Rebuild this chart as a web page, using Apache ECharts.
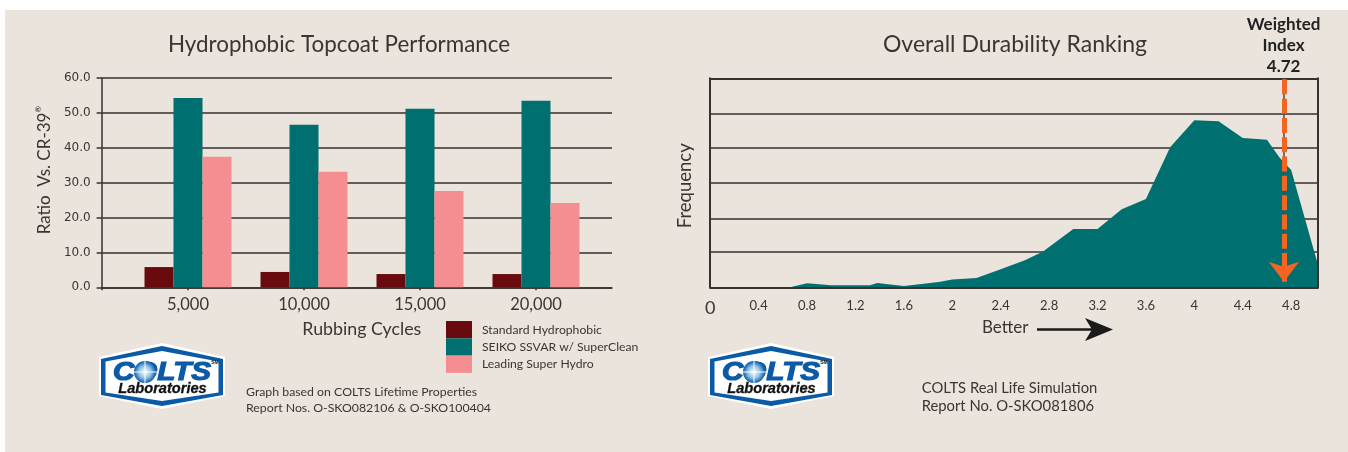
<!DOCTYPE html>
<html><head><meta charset="utf-8">
<style>html,body{margin:0;padding:0;background:#fff}#c{width:1348px;height:452px}</style>
<script src="https://cdn.jsdelivr.net/npm/echarts@6/dist/echarts.min.js"></script>
</head><body><div id="c"></div>
<script>
const cycles = [5000, 10000, 15000, 20000];
const standardHydrophobic = [5.8, 4.4, 3.8, 3.8];
const seikoSuperClean = [54.3, 46.6, 51.2, 53.5];
const leadingSuperHydro = [37.4, 33.1, 27.6, 24.2];
const ratioTicks = [0, 10, 20, 30, 40, 50, 60];

const rankX = [0, 0.66, 0.8, 1.0, 1.2, 1.32, 1.38, 1.6, 1.8, 1.9, 2.0, 2.2, 2.4, 2.6, 2.75, 3.0, 3.2, 3.4, 3.6, 3.8, 4.0, 4.2, 4.4, 4.6, 4.7, 4.8, 5.02];
const rankFreq = [0, 0, 1.9, 1.0, 1.0, 1.0, 2.1, 0.6, 1.9, 2.6, 3.7, 4.5, 8.6, 13.0, 17.1, 27.9, 27.9, 37.3, 42.3, 67.0, 79.9, 79.4, 71.4, 70.6, 62.4, 56.1, 11.0];
const rankTicks = [0, 0.4, 0.8, 1.2, 1.6, 2, 2.4, 2.8, 3.2, 3.6, 4, 4.4, 4.8];
const freqLines = [0, 17.1, 32.9, 50.2, 66.7, 82.9, 100];
const weightedMark = 4.74;

const FONT = 'Lato';
const INK = '#3a3533', LINE = '#353131';
const DARK = '#690B0E', TEAL = '#006F70', PINK = '#F58E90', ORANGE = '#F26522';
const BLUE = '#0B5AA6';

function txt(x, y, text, size, o) {
  return Object.assign({type:'text', x, y, z:20, style:Object.assign({
    text, fontFamily:FONT, fontSize:size, fill:INK, textAlign:'left', textVerticalAlign:'middle'
  }, o||{})});
}
function logo(dx) {
  const X = v => v + dx;
  const hex = (l, t, cy1, cy2) => [[X(99+l),cy1],[X(162),343+t],[X(225-l),cy1],[X(225-l),cy2],[X(162),409-t],[X(99+l),cy2]];
  return [
    {type:'polygon', z:20, shape:{points:hex(0,0,357,396)}, style:{fill:'#fff'}},
    {type:'polygon', z:20, shape:{points:hex(2,3,359,395)}, style:{fill:BLUE}},
    {type:'polygon', z:20, shape:{points:hex(6.5,8,361.5,392.5)}, style:{fill:'#fff'}},
    {type:'text', z:21, x:X(162), y:372.5, scaleX:1.14, style:{text:'COLTS', fontFamily:'Liberation Sans', fontStyle:'italic', fontWeight:'bold', fontSize:26, fill:BLUE, stroke:BLUE, lineWidth:1.2, textAlign:'center', textVerticalAlign:'middle'}},
    {type:'circle', z:22, shape:{cx:X(145), cy:372, r:11}, style:{fill:new echarts.graphic.RadialGradient(0.5,0.5,0.5,[{offset:0,color:'#fff'},{offset:0.55,color:'#8fc3ea'},{offset:1,color:BLUE}])}},
    {type:'line', z:23, shape:{x1:X(145),y1:359,x2:X(145),y2:385}, style:{stroke:'#fff',lineWidth:1}},
    {type:'line', z:23, shape:{x1:X(132),y1:372,x2:X(158),y2:372}, style:{stroke:'#fff',lineWidth:1}},
    {type:'text', z:21, x:X(215), y:363, style:{text:'SM', fontFamily:'Liberation Sans', fontWeight:'bold', fontSize:5, fill:'#222', textAlign:'center', textVerticalAlign:'middle'}},
    {type:'text', z:21, x:X(162.5), y:389, style:{text:'Laboratories', fontFamily:'Liberation Sans', fontStyle:'italic', fontWeight:'bold', fontSize:14.6, fill:'#111', stroke:'#111', lineWidth:0.3, textAlign:'center', textVerticalAlign:'middle'}}
  ];
}

const chart = echarts.init(document.getElementById('c'), null, {renderer:'canvas'});
const bar = (name, values, color) => ({
  name, type:'bar', xAxisIndex:0, yAxisIndex:0, barWidth:29, barGap:0,
  itemStyle:{color}, data:cycles.map((c,i)=>[c, values[i]])
});
const leftMin = 1276, leftMax = 23276;

chart.setOption({
  animation:false,
  backgroundColor:'transparent',
  title:[
    {text:'Hydrophobic Topcoat Performance', left:334, top:40, textAlign:'center', textVerticalAlign:'middle', textStyle:{fontFamily:FONT, fontSize:22.4, fontWeight:'normal', color:INK}},
    {text:'Overall Durability Ranking', left:1010, top:40, textAlign:'center', textVerticalAlign:'middle', textStyle:{fontFamily:FONT, fontSize:23, fontWeight:'normal', color:INK}}
  ],
  legend:{
    left:446, top:321, padding:0, orient:'vertical', itemWidth:26, itemHeight:17.3, itemGap:0, icon:'rect', selectedMode:false,
    data:['Standard Hydrophobic','SEIKO SSVAR w/ SuperClean','Leading Super Hydro'],
    textStyle:{fontFamily:FONT, fontSize:12.2, color:INK, padding:[0,0,0,5]}
  },
  grid:[
    {left:101.6, top:78, width:510.4, height:209.3},
    {left:710.2, top:78.3, width:607.6, height:209}
  ],
  xAxis:[
    {gridIndex:0, type:'value', min:leftMin, max:leftMax, splitLine:{show:false},
     name:'Rubbing Cycles', nameLocation:'middle', nameGap:33,
     nameTextStyle:{fontFamily:FONT, fontSize:17.8, color:INK, padding:[0,0,0,10]},
     axisLine:{show:true, onZero:false, lineStyle:{color:LINE, width:1.5}},
     axisTick:{show:true, length:3, customValues:[leftMin].concat(cycles), lineStyle:{color:LINE, width:1.5}},
     axisLabel:{customValues:cycles, margin:9, fontFamily:FONT, fontSize:16.5, color:INK, formatter:v=>Number(v).toLocaleString('en-US')}},
    {gridIndex:1, type:'value', min:0, max:5.02, z:6, splitLine:{show:false},
     axisLine:{show:true, onZero:false, lineStyle:{color:LINE, width:2}},
     axisTick:{show:false},
     axisLabel:{customValues:rankTicks, margin:12, fontFamily:FONT, fontSize:13, color:INK,
       formatter:v=>Number(v)===0?'{z|0}':String(v), rich:{z:{fontFamily:FONT, fontSize:18, color:INK}}}},
    {gridIndex:1, type:'value', min:0, max:5.02, position:'top', z:6, splitLine:{show:false},
     axisLine:{show:true, onZero:false, lineStyle:{color:LINE, width:2}}, axisTick:{show:false}, axisLabel:{show:false}}
  ],
  yAxis:[
    {gridIndex:0, type:'value', min:0, max:60, interval:10,
     name:'Ratio  Vs. CR-39{s|®}', nameLocation:'middle', nameGap:47,
     nameTextStyle:{fontFamily:FONT, fontSize:17, color:INK, padding:[0,0,0,25], rich:{s:{fontFamily:FONT, fontSize:8, color:INK, verticalAlign:'top', lineHeight:20}}},
     axisLine:{show:true, onZero:false, lineStyle:{color:LINE, width:1.5}},
     axisTick:{show:true, length:5, lineStyle:{color:LINE, width:1.5}},
     splitLine:{show:true, lineStyle:{color:LINE, width:1.5}},
     axisLabel:{customValues:ratioTicks, margin:11, fontFamily:'DejaVu Sans', fontSize:12, color:INK, formatter:v=>Number(v).toFixed(1)}},
    {gridIndex:1, type:'value', min:0, max:100,
     name:'Frequency', nameLocation:'middle', nameGap:16,
     nameTextStyle:{fontFamily:FONT, fontSize:18.5, color:INK, padding:[0,6,0,0]},
     axisLine:{show:true, onZero:false, lineStyle:{color:LINE, width:2}},
     axisTick:{show:false, customValues:freqLines},
     splitLine:{show:true, lineStyle:{color:LINE, width:1.5}},
     axisLabel:{show:false}},
    {gridIndex:1, type:'value', min:0, max:100, position:'right', z:6, splitLine:{show:false},
     axisLine:{show:true, onZero:false, lineStyle:{color:LINE, width:2}}, axisTick:{show:false}, axisLabel:{show:false}}
  ],
  series:[
    bar('Standard Hydrophobic', standardHydrophobic, DARK),
    bar('SEIKO SSVAR w/ SuperClean', seikoSuperClean, TEAL),
    bar('Leading Super Hydro', leadingSuperHydro, PINK),
    {name:'Durability', type:'line', xAxisIndex:1, yAxisIndex:1, showSymbol:false, symbol:'none', silent:true,
     lineStyle:{width:0}, areaStyle:{color:TEAL, opacity:1},
     data:rankX.map((x,i)=>[x, rankFreq[i]]),
     markLine:{silent:true, animation:false, label:{show:false}, z:8,
       data:[
         [{coord:[weightedMark,100], symbol:'none', lineStyle:{color:'#4a4a48', width:1.5, type:'solid'}},
          {coord:[weightedMark,6], symbol:'none'}],
         [{coord:[weightedMark,99.5], symbol:'none', lineStyle:{color:ORANGE, width:5, type:[15,4.3]}},
          {coord:[weightedMark,2.7], symbol:'arrow', symbolSize:[23,20]}]
       ]}}
  ],
  graphic:[
    {type:'rect', z:-10, shape:{x:5,y:10,width:1343,height:442}, style:{fill:'#EAE4DD'}},
    txt(1283.6,24.7,'Weighted',17,{fontWeight:'bold',textAlign:'center',fill:'#222'}),
    txt(1283.6,45.7,'Index',17,{fontWeight:'bold',textAlign:'center',fill:'#222'}),
    txt(1283.6,66.7,'4.72',17,{fontWeight:'bold',textAlign:'center',fill:'#222'}),
    txt(982,328,'Better',17),
    {type:'line', z:20, shape:{x1:1037,y1:329.5,x2:1095,y2:329.5}, style:{stroke:'#1a1a1a',lineWidth:2.5}},
    {type:'polygon', z:20, shape:{points:[[1085,318],[1113,329.5],[1085,341],[1092,329.5]]}, style:{fill:'#1a1a1a'}},
    txt(246,392,'Graph based on COLTS Lifetime Properties',12.3),
    txt(246,407.7,'Report Nos. O-SKO082106 & O-SKO100404',12.3),
    txt(921.7,388,'COLTS Real Life Simulation',14.8),
    txt(921.7,406.7,'Report No. O-SKO081806',14.8)
  ].concat(logo(0), logo(609))
});
</script></body></html>
